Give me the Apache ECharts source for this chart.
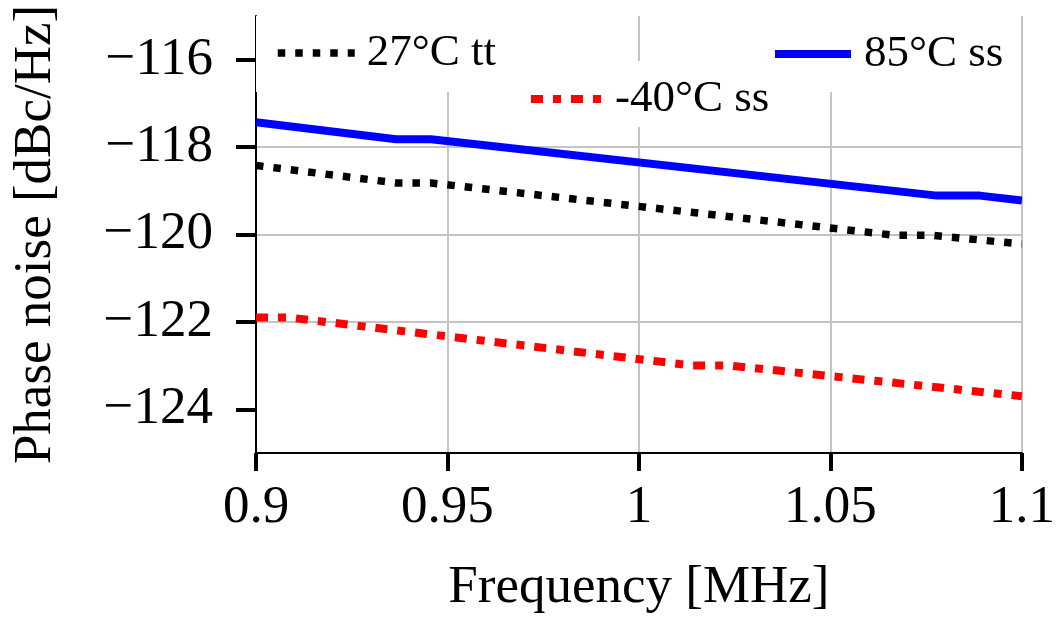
<!DOCTYPE html>
<html>
<head>
<meta charset="utf-8">
<script src="https://cdn.jsdelivr.net/npm/echarts@6/dist/echarts.min.js"></script>
<style>
html,body{margin:0;padding:0;background:#fff;}
#chart{width:1058px;height:620px;}
</style>
</head>
<body>
<div id="chart"></div>
<script>
// ---- data ----
const seriesNames = ['27°C tt', '-40°C ss', '85°C ss'];
const freq27 = [0.9, 0.9366, 0.9457, 1.067, 1.077, 1.1];
const pn27   = [-118.42, -118.82, -118.82, -120.02, -120.02, -120.22];
const freqM40 = [0.9, 0.9086, 1.0141, 1.0238, 1.1];
const pnM40   = [-121.90, -121.90, -123.00, -123.00, -123.70];
const freq85 = [0.9, 0.9366, 0.9457, 1.0778, 1.089, 1.1];
const pn85   = [-117.43, -117.82, -117.82, -119.11, -119.11, -119.22];
const xTickValues = [0.9, 0.95, 1, 1.05, 1.1];
const xTickLabels = ['0.9', '0.95', '1', '1.05', '1.1'];
const yTickValues = [-124, -122, -120, -118, -116];
const yTickLabels = ['−124', '−122', '−120', '−118', '−116'];
const xTitle = 'Frequency [MHz]';
const yTitle = 'Phase noise [dBc/Hz]';

const pairs = (xs, ys) => xs.map((x, i) => [x, ys[i]]);
const FONT = '"Liberation Serif", "DejaVu Serif", serif';
const dotDash = [7.5, 10];
const dashDot = [12, 10, 8, 10];

const chart = echarts.init(document.getElementById('chart'), null, {renderer: 'canvas'});

function legendBox(name, left, top, padding, itemWidth, lineStyle, gap) {
  return {
    data: [name],
    left: left, top: top,
    orient: 'horizontal',
    padding: padding,
    backgroundColor: '#ffffff',
    itemWidth: itemWidth, itemHeight: 14,
    itemStyle: {opacity: 0},
    lineStyle: lineStyle,
    selectedMode: false,
    textStyle: {fontFamily: FONT, fontSize: 45, lineHeight: 46, color: '#000', padding: [0, 0, 0, gap]}
  };
}

const option = {
  animation: false,
  backgroundColor: '#ffffff',
  grid: {left: 256, right: 36, top: 16, bottom: 159, containLabel: false},
  legend: [
    legendBox(seriesNames[0], 256, 16, [14, 24, 16, 18], 77, {color: '#000', width: 7.5, type: dotDash, cap: 'butt'}, 7),
    legendBox(seriesNames[1], 515, 61, [15, 12, 5, 12], 70, {color: '#ff0000', width: 8, type: dashDot, cap: 'butt'}, 9),
    legendBox(seriesNames[2], 753, 16, [15, 13, 15, 18], 76, {color: '#0000ff', width: 8, type: 'solid', cap: 'butt'}, 8)
  ],
  xAxis: {
    type: 'value',
    min: 0.9, max: 1.1, interval: 0.05,
    name: xTitle, nameLocation: 'middle', nameGap: 109,
    nameTextStyle: {fontFamily: FONT, fontSize: 53, color: '#000'},
    axisLine: {show: true, onZero: false, lineStyle: {color: '#000', width: 2}},
    axisTick: {show: true, length: 18, lineStyle: {color: '#000', width: 4}},
    axisLabel: {
      fontFamily: FONT, fontSize: 53, color: '#000', margin: 29,
      formatter: v => { const i = xTickValues.findIndex(t => Math.abs(t - v) < 1e-9); return i >= 0 ? xTickLabels[i] : ''; }
    },
    splitLine: {show: true, lineStyle: {color: '#c4c4c4', width: 2}}
  },
  yAxis: {
    type: 'value',
    min: -125, max: -115,
    name: yTitle, nameLocation: 'middle', nameGap: 193,
    nameTextStyle: {fontFamily: FONT, fontSize: 53, color: '#000'},
    axisLine: {show: true, onZero: false, lineStyle: {color: '#000', width: 2}},
    axisTick: {show: true, length: 20, lineStyle: {color: '#000', width: 4}, customValues: yTickValues},
    axisLabel: {
      fontFamily: FONT, fontSize: 53, color: '#000', margin: 43,
      customValues: yTickValues,
      formatter: v => { const i = yTickValues.findIndex(t => Math.abs(t - v) < 1e-9); return i >= 0 ? yTickLabels[i] : ''; }
    },
    splitLine: {show: true, showMinLine: false, showMaxLine: false, lineStyle: {color: '#c4c4c4', width: 2}}
  },
  series: [
    {name: seriesNames[0], type: 'line', data: pairs(freq27, pn27), symbol: 'none', z: 3,
     lineStyle: {color: '#000', width: 7.5, type: dotDash, cap: 'butt'}, itemStyle: {color: '#000'}},
    {name: seriesNames[1], type: 'line', data: pairs(freqM40, pnM40), symbol: 'none', z: 3,
     lineStyle: {color: '#ff0000', width: 8, type: dashDot, cap: 'butt'}, itemStyle: {color: '#ff0000'}},
    {name: seriesNames[2], type: 'line', data: pairs(freq85, pn85), symbol: 'none', z: 3,
     lineStyle: {color: '#0000ff', width: 8, type: 'solid', cap: 'butt'}, itemStyle: {color: '#0000ff'}}
  ]
};
chart.setOption(option);
</script>
</body>
</html>
